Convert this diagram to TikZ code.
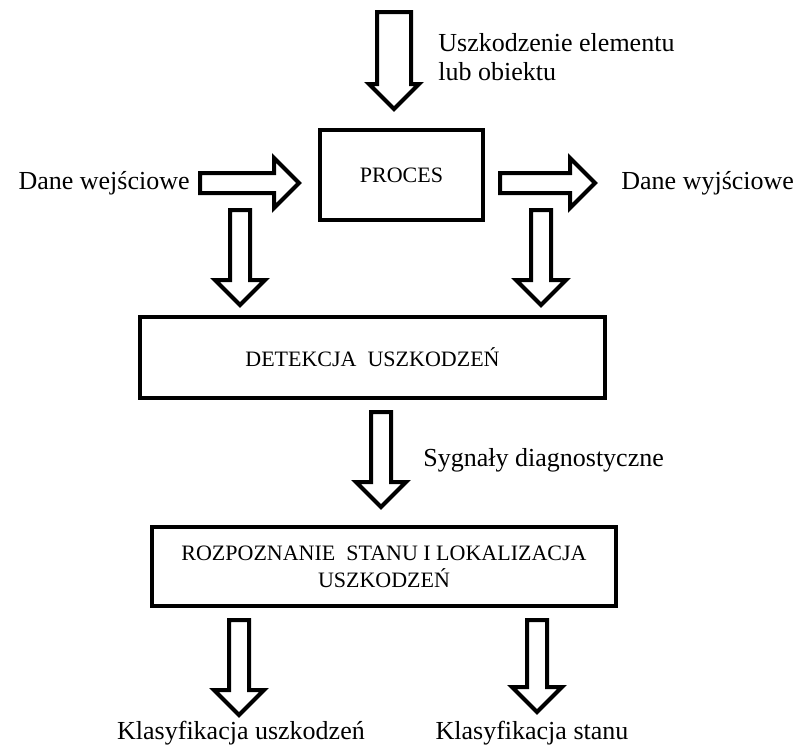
\documentclass[tikz,border=0pt]{standalone}
\usepackage{fontspec}
\setmainfont{Liberation Serif}
\usetikzlibrary{positioning, calc}

\tikzset{
  block/.style={draw, line width=2pt, align=center, font=\fontsize{11}{13.5}\selectfont},
  txt/.style={font=\fontsize{13}{14.5}\selectfont, align=left, inner sep=0pt},
  fatarrow/.style={draw, fill=white, line width=2pt, line join=miter,
    to path={
      ($(\tikztostart)!#1!90:(\tikztotarget)$)
      -- ($(\tikztotarget)!12.5pt!(\tikztostart)!#1!90:(\tikztotarget)$)
      -- ($(\tikztotarget)!12.5pt!(\tikztostart)!12.5pt!90:(\tikztotarget)$)
      -- (\tikztotarget)
      -- ($(\tikztotarget)!12.5pt!(\tikztostart)!12.5pt!-90:(\tikztotarget)$)
      -- ($(\tikztotarget)!12.5pt!(\tikztostart)!#1!-90:(\tikztotarget)$)
      -- ($(\tikztostart)!#1!-90:(\tikztotarget)$) -- cycle}},
  fatarrow/.default=5pt
}

\begin{document}
\begin{tikzpicture}[x=0.5pt, y=-0.5pt]
    \useasboundingbox (0,0) rectangle (800,746);
    % Define blocks
    \node[block, minimum width=81.5pt, minimum height=45pt] (proc) at (401.5,175) {PROCES};
    \node[block, minimum width=232.5pt, minimum height=40.5pt] (det) at (372.5,357.5) {DETEKCJA\ \ USZKODZEŃ};
    \node[block, minimum width=232pt, minimum height=39.5pt] (rozp) at (384,566.5) {ROZPOZNANIE\ \ STANU I LOKALIZACJA\\USZKODZEŃ};

    % Define arrow ends
    \coordinate (top0) at (394,12);
    \coordinate (top1) at (394,109);
    \coordinate (in0) at (200,183);
    \coordinate (in1) at (299,183);
    \coordinate (out0) at (500,183);
    \coordinate (out1) at (595,183);
    \coordinate (dl0) at (240,210);
    \coordinate (dl1) at (240,305);
    \coordinate (dr0) at (541,210);
    \coordinate (dr1) at (541,305);
    \coordinate (mid0) at (381,412);
    \coordinate (mid1) at (381,507);
    \coordinate (bl0) at (239,620);
    \coordinate (bl1) at (239,715);
    \coordinate (br0) at (537,620);
    \coordinate (br1) at (537,712);

    % Define labels
    \node[txt, anchor=west] (fault) at (438,57) {Uszkodzenie elementu\\lub obiektu};
    \node[txt] (din) [left=5pt of in0] {Dane wejściowe};
    \node[txt] (dout) [right=13pt of out1] {Dane wyjściowe};
    \node[txt, anchor=west] (sig) at (423,460) {Sygnały diagnostyczne};
    \node[txt, anchor=base] (kusz) at (241,739) {Klasyfikacja uszkodzeń};
    \node[txt, anchor=base] (kstan) at (532,739) {Klasyfikacja stanu};

    % Define arrows
    \path
    (top0) edge[fatarrow=8.5pt] (top1)
    (in0) edge[fatarrow] (in1)
        (out0) edge[fatarrow] (out1)
    (dl0) edge[fatarrow] (dl1)
        (dr0) edge[fatarrow] (dr1)
    (mid0) edge[fatarrow] (mid1)
    (bl0) edge[fatarrow] (bl1)
        (br0) edge[fatarrow] (br1);
\end{tikzpicture}
\end{document}
